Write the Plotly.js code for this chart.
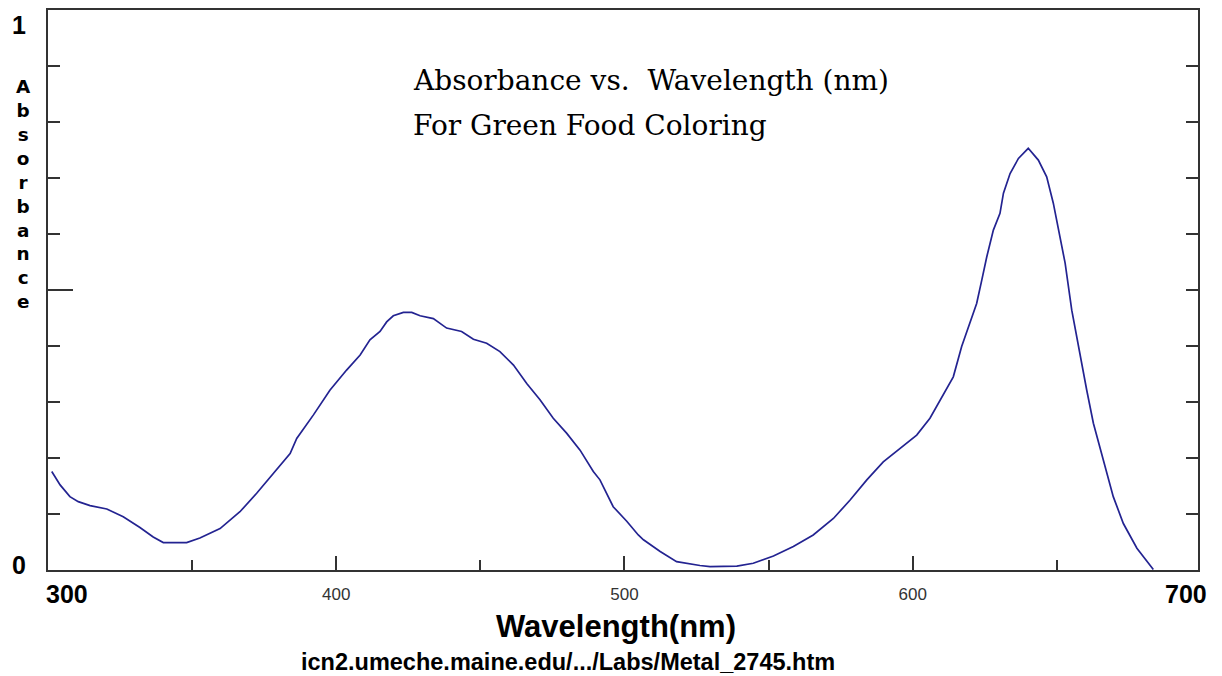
<!DOCTYPE html>
<html>
<head>
<meta charset="utf-8">
<script src="https://cdn.plot.ly/plotly-3.0.1.min.js"></script>
<style>html,body{margin:0;padding:0;background:#fff;}#chart{width:1222px;height:676px;}</style>
</head>
<body>
<div id="chart"></div>
<script>
// Wavelength (nm)
const wavelength = [301.3,304.2,307.6,310.5,314.6,320.4,326.1,331.9,336.5,340.0,348.1,352.7,359.7,366.6,372.4,378.2,384.0,386.3,392.1,397.8,403.6,408.3,411.7,415.2,417.5,419.8,423.3,426.2,429.1,433.7,438.3,443.5,447.6,452.2,456.8,461.5,466.1,470.7,475.3,480.0,484.6,489.2,491.5,496.1,500.8,504.8,506.6,512.4,518.1,526.2,529.7,539.0,544.7,551.7,558.6,565.5,572.5,578.3,584.1,589.8,595.6,601.4,606.0,609.5,614.1,617.0,619.9,622.2,624.0,625.7,628.0,630.3,631.5,633.8,636.7,640.1,643.6,646.5,648.8,650.6,652.9,655.2,657.5,660.4,662.7,666.2,669.6,673.1,677.8,683.5];
// Absorbance
const absorbance = [0.176,0.152,0.131,0.122,0.115,0.109,0.095,0.076,0.059,0.049,0.049,0.057,0.074,0.104,0.137,0.173,0.208,0.235,0.277,0.321,0.357,0.384,0.411,0.426,0.443,0.454,0.460,0.460,0.454,0.449,0.432,0.426,0.412,0.405,0.390,0.366,0.333,0.304,0.271,0.244,0.214,0.176,0.161,0.113,0.087,0.0625,0.054,0.033,0.015,0.008,0.006,0.007,0.012,0.025,0.042,0.0625,0.092,0.125,0.161,0.193,0.217,0.241,0.271,0.304,0.345,0.399,0.441,0.476,0.518,0.559,0.607,0.637,0.673,0.708,0.735,0.753,0.732,0.702,0.655,0.607,0.548,0.464,0.399,0.321,0.262,0.196,0.131,0.083,0.039,0.001];

const xTickVals = [300, 400, 500, 600];
const xTickText = ['', '400', '500', '600'];
const xEndLabels = ['300', '700'];
const yEndLabels = ['1', '0'];
const yTitleText = 'Absorbance';
const titleLines = ['Absorbance vs.  Wavelength (nm)', 'For Green Food Coloring'];
const xTitleText = 'Wavelength(nm)';
const sourceText = 'icn2.umeche.maine.edu/.../Labs/Metal_2745.htm';

const W = 1222, H = 676;
const mL = 48, mR = 24, mT = 10, mB = 106;
const plotH = H - mT - mB;
// pixel -> paper helpers for text placement
const px2x = p => (p - mL) / (W - mL - mR);
const py2y = p => (H - mB - p) / plotH;

const boldSans = 'Liberation Sans, Arial, sans-serif';
const annotations = [];

// title lines
annotations.push({text: titleLines[0], xref:'paper', yref:'paper', x: px2x(411), y: py2y(80), xanchor:'left', yanchor:'middle', showarrow:false, font:{family:'DejaVu Serif, serif', size:28, color:'#000'}});
annotations.push({text: titleLines[1], xref:'paper', yref:'paper', x: px2x(411), y: py2y(125), xanchor:'left', yanchor:'middle', showarrow:false, font:{family:'DejaVu Serif, serif', size:28, color:'#000'}});

// vertical stacked y title (one text, one letter per line)
annotations.push({text: '<b>' + yTitleText.split('').join('<br>') + '</b>', xref:'paper', yref:'paper', x: px2x(24), y: py2y(194), xanchor:'center', yanchor:'middle', align:'center', showarrow:false, font:{family: 'DejaVu Sans, sans-serif', size:18.4, color:'#000'}});

// y end labels
annotations.push({text:'<b>' + yEndLabels[0] + '</b>', xref:'paper', yref:'paper', x: px2x(19), y: py2y(25), xanchor:'center', yanchor:'middle', showarrow:false, font:{family: boldSans, size:25, color:'#000'}});
annotations.push({text:'<b>' + yEndLabels[1] + '</b>', xref:'paper', yref:'paper', x: px2x(19), y: py2y(565), xanchor:'center', yanchor:'middle', showarrow:false, font:{family: boldSans, size:25, color:'#000'}});

// x end labels
annotations.push({text:'<b>' + xEndLabels[0] + '</b>', xref:'paper', yref:'paper', x: px2x(44), y: py2y(594), xanchor:'left', yanchor:'middle', showarrow:false, font:{family: boldSans, size:25, color:'#000'}});
annotations.push({text:'<b>' + xEndLabels[1] + '</b>', xref:'paper', yref:'paper', x: px2x(1209), y: py2y(594), xanchor:'right', yanchor:'middle', showarrow:false, font:{family: boldSans, size:25, color:'#000'}});

// x title
annotations.push({text:'<b>' + xTitleText + '</b>', xref:'paper', yref:'paper', x: px2x(616), y: py2y(626), xanchor:'center', yanchor:'middle', showarrow:false, font:{family: boldSans, size:31, color:'#000'}});
// source line
annotations.push({text:'<b>' + sourceText + '</b>', xref:'paper', yref:'paper', x: px2x(568), y: py2y(662), xanchor:'center', yanchor:'middle', showarrow:false, font:{family: boldSans, size:23.5, color:'#000'}});

const data = [{
  x: wavelength, y: absorbance, type:'scatter', mode:'lines',
  line:{color:'#232391', width:1.7}, hoverinfo:'skip', showlegend:false
}];

const layout = {
  width: W, height: H,
  margin:{l:mL, r:mR, t:mT, b:mB, pad:0},
  paper_bgcolor:'#fff', plot_bgcolor:'#fff',
  showlegend:false,
  xaxis:{
    range:[300, 699], showgrid:false, zeroline:false,
    showline:true, linecolor:'#333', linewidth:2, mirror:true,
    tickmode:'array', tickvals:xTickVals, ticktext:xTickText,
    ticks:'inside', ticklen:14, tickwidth:2, tickcolor:'#333',
    ticklabelstandoff:8,
    tickfont:{family:'Liberation Sans, Arial, sans-serif', size:17, color:'#333'},
    minor:{tickmode:'linear', tick0:300, dtick:50, ticks:'inside', ticklen:10, tickwidth:2, tickcolor:'#333'},
    fixedrange:true
  },
  yaxis:{
    range:[0, 1], showgrid:false, zeroline:false,
    showline:true, linecolor:'#333', linewidth:2, mirror:'ticks',
    tickmode:'linear', tick0:0, dtick:0.1,
    ticks:'inside', ticklen:12, tickwidth:2, tickcolor:'#333',
    showticklabels:false, fixedrange:true
  },
  shapes:[{type:'line', xref:'paper', xsizemode:'pixel', xanchor:0, x0:0, x1:25, yref:'y', y0:0.5, y1:0.5, line:{color:'#333', width:2}}],
  annotations: annotations
};

Plotly.newPlot('chart', data, layout, {staticPlot:true, displayModeBar:false});
</script>
</body>
</html>
